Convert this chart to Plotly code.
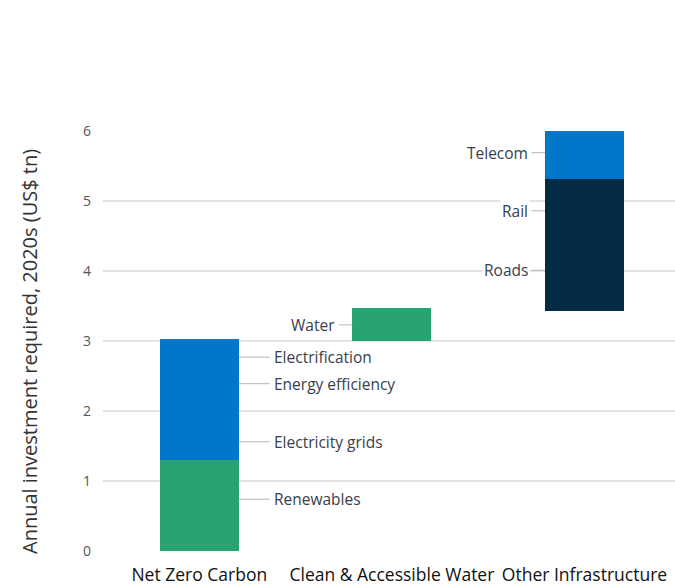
import plotly.graph_objects as go

# ---- data -------------------------------------------------------------
categories = ["Net Zero Carbon", "Clean & Accessible Water", "Other Infrastructure"]

# stacked segments (category index, base, height, palette key)
seg_category = [0, 0, 1, 2, 2]
seg_base = [0.0, 1.30, 3.00, 3.43, 5.31]
seg_height = [1.30, 1.73, 0.47, 1.88, 0.69]
seg_kind = ["green", "blue", "green", "navy", "blue"]

# component labels (text, category index, value at which the label points)
label_text = ["Electrification", "Energy efficiency", "Electricity grids", "Renewables",
              "Water", "Telecom", "Rail", "Roads"]
label_category = [0, 0, 0, 0, 1, 2, 2, 2]
label_value = [2.77, 2.39, 1.56, 0.74, 3.23, 5.69, 4.86, 4.01]

y_ticks = [0, 1, 2, 3, 4, 5, 6]

# ---- styles -----------------------------------------------------------
palette = {"green": "#28a470", "blue": "#0077c8", "navy": "#042a45"}
FONT = "Open Sans"
BAR_W = 0.41
LEADER = 0.16
LEFT_LEADER = 0.07

fig = go.Figure()
for c, b, h, k in zip(seg_category, seg_base, seg_height, seg_kind):
    fig.add_trace(go.Bar(
        x=[c], y=[h], base=[b], width=BAR_W,
        marker=dict(color=palette[k], line=dict(width=0)),
        showlegend=False, hoverinfo="skip",
    ))

shapes = []
annotations = []
label_font = dict(family=FONT, size=15.5, color="#38404c")
for txt, c, v in zip(label_text, label_category, label_value):
    if c == 0:
        x0 = c + BAR_W / 2
        x1 = x0 + LEADER
        annotations.append(dict(x=x1, y=v, xref="x", yref="y", text=txt,
                                showarrow=False, xanchor="left", xshift=2,
                                font=label_font, bgcolor="white"))
    else:
        x0 = c - BAR_W / 2
        x1 = x0 - LEFT_LEADER
        annotations.append(dict(x=x1, y=v, xref="x", yref="y", text=txt,
                                showarrow=False, xanchor="right", xshift=-2,
                                font=label_font, bgcolor="white"))
    shapes.append(dict(type="line", xref="x", yref="y", x0=x0, x1=x1, y0=v, y1=v,
                       line=dict(color="#b4b4b4", width=1), layer="above"))

annotations.append(dict(
    x=0, y=0.5, xref="paper", yref="paper", xshift=-74, yshift=-11,
    text="Annual investment required, 2020s (US$ tn)", textangle=-90,
    showarrow=False, xanchor="center", yanchor="middle",
    font=dict(family=FONT, size=20, color="#333333"),
))

fig.update_layout(
    width=675, height=588,
    margin=dict(l=103, r=0, t=131, b=37),
    paper_bgcolor="white", plot_bgcolor="white",
    barmode="overlay", bargap=0,
    shapes=shapes, annotations=annotations,
    xaxis=dict(
        range=[-0.5, 2.47], tickmode="array",
        tickvals=list(range(len(categories))), ticktext=categories,
        showgrid=False, zeroline=False, showline=False, ticks="",
        ticklabelstandoff=11,
        tickfont=dict(family=FONT, size=17.5, color="#111111"),
    ),
    yaxis=dict(
        range=[0, 6], tickvals=y_ticks, showgrid=True,
        gridcolor="#e4e4e4", gridwidth=1.5, zeroline=False, showline=False,
        ticks="", ticklabelstandoff=11,
        tickfont=dict(family=FONT, size=14, color="#555555"),
    ),
)

fig.write_html("out.html")
